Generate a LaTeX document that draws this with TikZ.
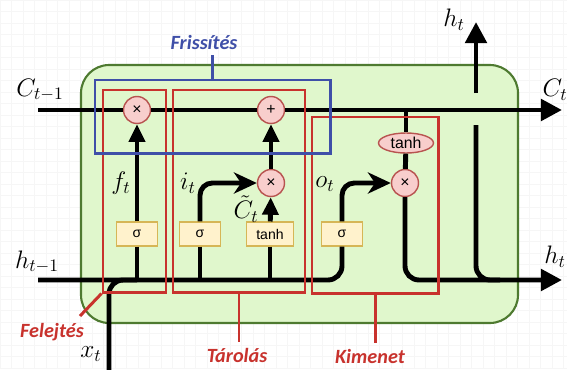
\documentclass[tikz,border=0pt]{standalone}
\usepackage{fontspec}
\usepackage{amsmath}
\usetikzlibrary{positioning,arrows.meta,fit,calc,shapes.geometric}
\newfontfamily\tagfont{Carlito}
\newfontfamily\boxfont{Liberation Sans}
\definecolor{cellfill}{HTML}{E0F7CC}
\definecolor{cellline}{HTML}{4E7A30}
\definecolor{opfill}{HTML}{F8CECC}
\definecolor{opline}{HTML}{B85450}
\definecolor{actfill}{HTML}{FFF2CC}
\definecolor{actline}{HTML}{D6B656}
\definecolor{gatered}{HTML}{C8322D}
\definecolor{updblue}{HTML}{3F4FA8}

\begin{document}
\begin{tikzpicture}[x=0.02cm,y=-0.02cm,
    flow/.style={line width=2.8pt,black},
    arr/.style={flow,-{Triangle[length=10pt,width=9pt]}},
    big/.style={flow,-{Triangle[length=12pt,width=12pt]}},
    turnarrow/.style={flow,rounded corners=7pt,-{Stealth[length=13pt,width=12pt,inset=4pt]}},
    op/.style={circle,draw=opline,fill=opfill,line width=0.8pt,minimum size=0.54cm,inner sep=0pt,font=\boxfont\small},
    act/.style={rectangle,draw=actline,fill=actfill,line width=0.6pt,minimum height=0.48cm,minimum width=0.82cm,font=\boxfont\footnotesize},
    gate/.style={draw=gatered,line width=1.7pt,inner sep=0pt},
    mlabel/.style={inner sep=1pt,font=\fontsize{14.5}{16}\selectfont},
    tag/.style={font=\tagfont\bfseries\itshape\fontsize{11.5}{14}\selectfont}]
  \useasboundingbox (0,0) rectangle (567,369);
  \fill[white] (0,0) rectangle (567,369);
  \draw[gray!7,line width=0.3pt,step=0.23cm] (0,0) grid (567,369);

  % cell
  \draw[cellline,fill=cellfill,line width=1.2pt,rounded corners=16pt] (81,65) rectangle (518,323);

  % operations
  \node[op] (fx) at (137,110) {×};
  \node[op] (ip) at (271,110) {+};
  \node[op] (ix) at (271,183) {×};
  \node[op] (ox) at (405,183) {×};
  \node[op,ellipse,minimum width=1.1cm,minimum height=0.4cm] (otanh) at (406,143) {tanh};
  \node[act] (fs) at (137,234) {σ};
  \node[act] (is) at (200,234) {σ};
  \node[act,minimum width=0.94cm] (it) at (270,234) {tanh};
  \node[act] (os) at (342,234) {σ};

  \coordinate (cin) at (38,110);
  \coordinate (cout) at (562,110);
  \coordinate (hin) at (38,280);
  \coordinate (hout) at (562,280);
  \coordinate (hjoin) at (500,280);
  \coordinate (xin) at (109,372);
  \coordinate (hup) at (476,125);
  \coordinate (hgap) at (476,93);
  \coordinate (htop) at (476,22);

  % cell state and hidden state
  \draw[big] (cin) -- (fx) -- (ip) -- (cout);
  \draw[flow,rounded corners=8pt] (hin) -| (os);
  \draw[flow,rounded corners=8pt] (xin) |- (fs |- hin);
  \draw[flow] (fs) -- (fs |- hin);
  \draw[flow] (is) -- (is |- hin);
  \draw[flow] (it) -- (it |- hin);

  % gates
  \draw[arr] (fs) -- (fx);
  \draw[turnarrow] (is) |- (ix);
  \draw[arr] (it) -- (ix);
  \draw[arr] (ix) -- (ip);
  \draw[turnarrow] (os) |- (ox);
  \draw[flow] (otanh |- cin) -- (otanh);
  \draw[flow] (otanh) -- (ox);
  \draw[big,rounded corners=8pt] (ox) |- (hout);
  \draw[flow,rounded corners=8pt] (hup) |- (hjoin);
  \draw[big] (hgap) -- (htop);

  % groups
  \node[gate,fit={(103,90) (166,292)}] (fbox) {};
  \node[gate,fit={(173,90) (305,292)}] (tbox) {};
  \node[gate,fit={(312,117) (438,293)}] (kbox) {};
  \node[draw=updblue,line width=1.7pt,inner sep=0pt,fit={(95,80) (330,153)}] (ubox) {};

  \node[tag,text=updblue] (fris) at (204,42) {Frissítés};
  \node[tag,text=gatered] (fel) at (52,332) {Felejtés};
  \node[tag,text=gatered] (tar) at (237,355) {Tárolás};
  \node[tag,text=gatered] (kim) at (370,356) {Kimenet};
  \coordinate (feltip) at (80,316);
  \draw[updblue,line width=1.7pt] (ubox.north) -- (ubox.north |- fris.south);
  \draw[gatered,line width=1.7pt] (fbox.south west) -- (feltip);
  \draw[gatered,line width=1.7pt] (tbox.south) -- (tbox.south |- tar.north);
  \draw[gatered,line width=1.7pt] (kbox.south) -- (kbox.south |- kim.north);

  % variables
  \node[mlabel] (cprev) at (40,90) {$C_{t-1}$};
  \node[mlabel] (cnext) at (555,90) {$C_t$};
  \node[mlabel] (hprev) at (37,262) {$h_{t-1}$};
  \node[mlabel] (hnext) at (555,257) {$h_t$};
  \node[mlabel] (hupl) at (454,20) {$h_t$};
  \node[mlabel] (xlab) at (91,354) {$x_t$};
  \node[mlabel] (flab) at (121,183) {$f_t$};
  \node[mlabel] (ilab) at (188,183) {$i_t$};
  \node[mlabel,inner sep=0pt] (clab) at (246,209) {$\tilde{C}_t$};
  \node[mlabel] (olab) at (325,184) {$o_t$};
\end{tikzpicture}
\end{document}
